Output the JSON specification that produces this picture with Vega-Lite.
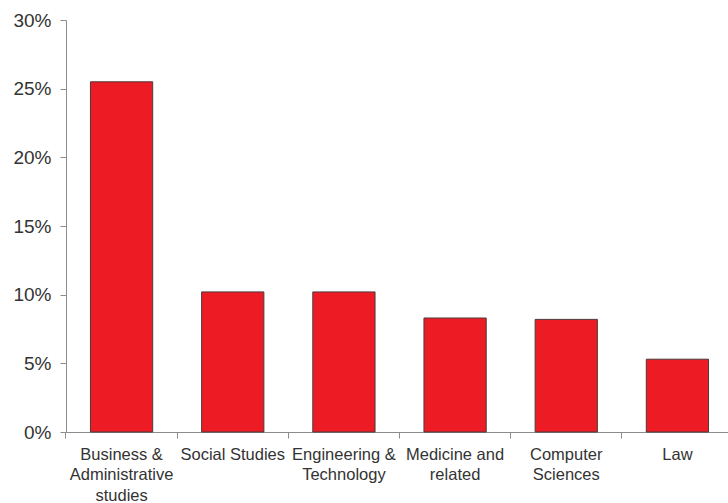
{
  "$schema": "https://vega.github.io/schema/vega-lite/v6.json",
  "width": 662,
  "height": 412,
  "autosize": {"type": "none"},
  "padding": {"left": 66, "top": 20, "right": 0, "bottom": 71},
  "background": "white",
  "config": {
    "view": {"stroke": null},
    "font": "Liberation Sans",
    "axis": {"grid": false, "domainColor": "#8c8c8c", "tickColor": "#8c8c8c", "labelColor": "#333333", "title": null, "labelFont": "Liberation Sans"}
  },
  "data": {
    "values": [
      {"field": "Business & Administrative studies", "share": 0.255},
      {"field": "Social Studies", "share": 0.102},
      {"field": "Engineering & Technology", "share": 0.102},
      {"field": "Medicine and related", "share": 0.083},
      {"field": "Computer Sciences", "share": 0.082},
      {"field": "Law", "share": 0.053}
    ]
  },
  "mark": {"type": "bar", "color": "#ED1C24", "stroke": "#4a3b3b", "strokeWidth": 1},
  "encoding": {
    "x": {
      "field": "field",
      "type": "nominal",
      "sort": null,
      "scale": {"range": [0, 667], "paddingInner": 0.44, "paddingOuter": 0.22},
      "axis": {
        "bandPosition": -0.395,
        "labelAngle": 0,
        "labelAlign": "center",
        "labelFontSize": 16.5,
        "labelLineHeight": 20.5,
        "labelPadding": 8,
        "labelOverlap": false,
        "labelBound": false,
        "labelLimit": 0,
        "tickSize": 6,
        "labelExpr": "datum.value == 'Business & Administrative studies' ? ['Business &', 'Administrative', 'studies'] : datum.value == 'Engineering & Technology' ? ['Engineering &', 'Technology'] : datum.value == 'Medicine and related' ? ['Medicine and', 'related'] : datum.value == 'Computer Sciences' ? ['Computer', 'Sciences'] : datum.value"
      }
    },
    "y": {
      "field": "share",
      "type": "quantitative",
      "scale": {"domain": [0, 0.3], "nice": false},
      "axis": {
        "values": [0, 0.05, 0.1, 0.15, 0.2, 0.25, 0.3],
        "format": ".0%",
        "labelFontSize": 19,
        "labelPadding": 9,
        "tickSize": 6
      }
    }
  }
}
